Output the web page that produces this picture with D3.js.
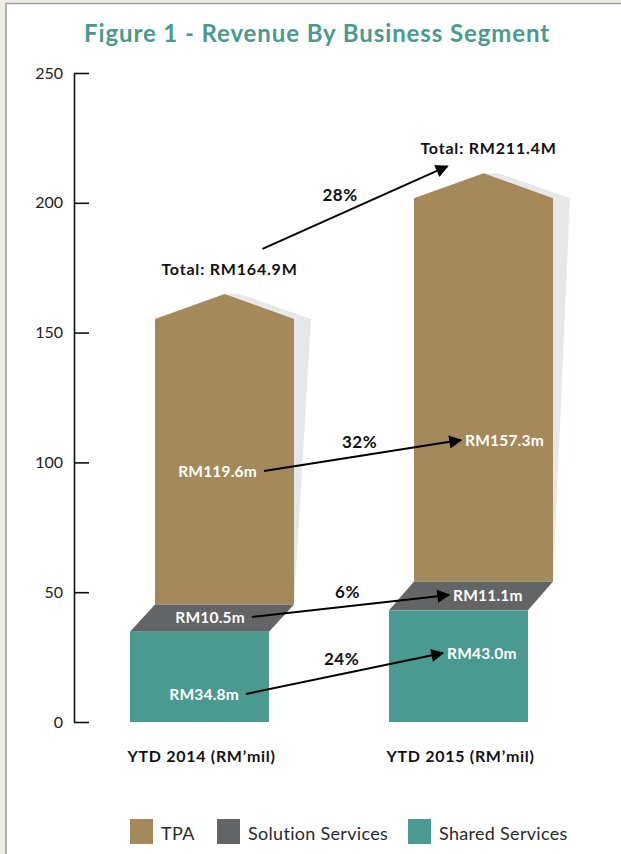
<!DOCTYPE html>
<html lang="en">
  <head>
    <meta charset="UTF-8" />
    <title>Revenue By Business Segment</title>
    <script src="https://d3js.org/d3.v7.min.js"></script>
    <style>
      html, body { margin: 0; padding: 0; background: #efebe5; }
      svg { display: block; font-family: Lato, 'Open Sans', sans-serif; }
    </style>
  </head>
  <body>
    <div id="chart"></div>
    <script>
      // data
      const years = ['YTD 2014 (RM\u2019mil)', 'YTD 2015 (RM\u2019mil)'];
      const segments = ['TPA', 'Solution Services', 'Shared Services'];
      const shared = [34.8, 43.0];
      const solution = [10.5, 11.1];
      const tpa = [119.6, 157.3];
      const totals = [164.9, 211.4];
      const growth = ['32%', '6%', '24%']; // TPA, Solution, Shared
      const totalGrowth = '28%';
      const yTicks = [0, 50, 100, 150, 200, 250];

      const colors = { TPA: '#a4895a', 'Solution Services': '#636466', 'Shared Services': '#4a9a8f' };

      const W = 621, H = 854;
      const margin = { top: 73, bottom: 132, left: 74 };
      const skew = 25;   // slant of the solution block
      const roof = 25;   // height of the pointed top

      const svg = d3.select('#chart').append('svg').attr('width', W).attr('height', H);

      // page frame
      svg.append('rect').attr('x', 6).attr('y', 3.5).attr('width', W).attr('height', H)
        .attr('fill', '#fff').attr('stroke', '#9d9d9d').attr('stroke-width', 1.5);

      svg.append('text').attr('x', 317).attr('y', 42).attr('text-anchor', 'middle')
        .attr('fill', '#4a9a8f').attr('font-weight', 700).attr('font-size', 24)
        .attr('letter-spacing', 0.9)
        .text('Figure 1 - Revenue By Business Segment');

      const y = d3.scaleLinear().domain([0, 250]).range([H - margin.bottom, margin.top]);
      const x = d3.scaleBand().domain(years).range([130, 130 + 259 + 139]).paddingInner(120 / 259).paddingOuter(0);

      const yAxis = svg.append('g').attr('transform', `translate(${margin.left},0)`)
        .call(d3.axisLeft(y).tickValues(yTicks).tickSizeInner(-15).tickSizeOuter(0).tickPadding(11));
      yAxis.select('.domain').attr('stroke', '#111').attr('stroke-width', 1.6);
      yAxis.selectAll('.tick line').attr('stroke', '#111').attr('stroke-width', 1.6);
      yAxis.selectAll('.tick text').attr('font-size', 16).attr('fill', '#222')
        .attr('font-family', 'Lato, sans-serif');

      const defs = svg.append('defs');
      defs.append('marker').attr('id', 'head').attr('viewBox', '0 0 10 10')
        .attr('refX', 9).attr('refY', 5).attr('markerWidth', 8).attr('markerHeight', 6.5)
        .attr('markerUnits', 'strokeWidth').attr('orient', 'auto')
        .append('path').attr('d', 'M0,0 L10,5 L0,10 Z').attr('fill', '#000');

      const bars = years.map((yr, i) => {
        const x0 = x(yr), bw = x.bandwidth();
        const base2 = shared[i] + solution[i];
        return {
          i, x0, bw,
          tpaLeft: x0 + skew, tpaRight: x0 + skew + bw,
          peakX: x0 + skew + bw / 2, peakY: y(totals[i]),
          shoulderY: y(totals[i]) + roof, baseY: y(base2),
          topShared: y(shared[i])
        };
      });

      const g = svg.append('g');
      bars.forEach((b) => {
        // shadow
        g.append('path').attr('fill', '#e6e7e8').attr('d', d3.line()([
          [b.peakX, b.peakY], [b.peakX + 15, b.peakY], [b.tpaRight + 17, b.shoulderY], [b.tpaRight, b.baseY]
        ]) + 'Z');
        // TPA
        g.append('path').attr('fill', colors.TPA).attr('d', d3.line()([
          [b.tpaLeft, b.baseY], [b.tpaLeft, b.shoulderY], [b.peakX, b.peakY],
          [b.tpaRight, b.shoulderY], [b.tpaRight, b.baseY]
        ]) + 'Z');
        // Solution services
        g.append('path').attr('fill', colors['Solution Services']).attr('d', d3.line()([
          [b.x0, b.topShared], [b.tpaLeft, b.baseY], [b.tpaRight, b.baseY], [b.x0 + b.bw, b.topShared]
        ]) + 'Z');
        // Shared services
        g.append('rect').attr('fill', colors['Shared Services'])
          .attr('x', b.x0).attr('y', b.topShared).attr('width', b.bw).attr('height', y(0) - b.topShared);
      });

      // category labels
      svg.selectAll('.cat').data(years).join('text').attr('class', 'cat')
        .attr('x', (d) => x(d) + x.bandwidth() / 2 + 2).attr('y', 762)
        .attr('text-anchor', 'middle').attr('font-weight', 700).attr('font-size', 16)
        .attr('letter-spacing', 0.7).attr('fill', '#111')
        .text((d) => d);

      // value labels and growth arrows
      const values = [tpa, solution, shared];
      const labelAt = [[96.3, 108.2], null, [10.4, 26.2]]; // y in data units
      const labelShift = [0, -12, -18];
      const fmt = (v) => 'RM' + v.toFixed(1) + 'm';
      segments.forEach((s, k) => {
        const ly = [0, 1].map((i) => labelAt[k] ? y(labelAt[k][i])
          : y(shared[i] + solution[i] / 2));
        const xEnd = bars[0].x0 + skew + 102 + labelShift[k];
        const xStart = bars[1].x0 + skew + 51 + labelShift[k];
        svg.append('text').attr('x', xEnd).attr('y', ly[0] + 5).attr('text-anchor', 'end')
          .attr('fill', '#fff').attr('font-weight', 700).attr('font-size', 15.5)
          .attr('letter-spacing', 0.2).text(fmt(values[k][0]));
        svg.append('text').attr('x', xStart).attr('y', ly[1] + 5).attr('text-anchor', 'start')
          .attr('fill', '#fff').attr('font-weight', 700).attr('font-size', 15.5)
          .attr('letter-spacing', 0.2).text(fmt(values[k][1]));
        const a = [xEnd + 7, ly[0] - 1], c = [xStart - 4, ly[1] - 1];
        svg.append('line').attr('x1', a[0]).attr('y1', a[1]).attr('x2', c[0]).attr('y2', c[1])
          .attr('stroke', '#000').attr('stroke-width', 2).attr('marker-end', 'url(#head)');
        svg.append('text').attr('x', (a[0] + c[0]) / 2 - 3).attr('y', (a[1] + c[1]) / 2 - 8)
          .attr('text-anchor', 'middle').attr('font-weight', 700).attr('font-size', 17)
          .attr('letter-spacing', 0.5).attr('fill', '#111')
          .text(growth[k]);
      });

      // totals
      bars.forEach((b, i) => {
        svg.append('text').attr('x', b.peakX + 5).attr('y', b.peakY - 19).attr('text-anchor', 'middle')
          .attr('font-weight', 700).attr('font-size', 16).attr('letter-spacing', 0.8).attr('fill', '#111')
          .text('Total: RM' + totals[i].toFixed(1) + 'M');
      });
      const t0 = [bars[0].peakX + 38, bars[0].peakY - 45];
      const t1 = [bars[1].peakX - 36, bars[1].peakY - 7];
      svg.append('line').attr('x1', t0[0]).attr('y1', t0[1]).attr('x2', t1[0]).attr('y2', t1[1])
        .attr('stroke', '#000').attr('stroke-width', 2).attr('marker-end', 'url(#head)');
      svg.append('text').attr('x', (t0[0] + t1[0]) / 2 - 15).attr('y', (t0[1] + t1[1]) / 2 - 7)
        .attr('text-anchor', 'middle').attr('font-weight', 700).attr('font-size', 17)
        .attr('letter-spacing', 0.5).attr('fill', '#111')
        .text(totalGrowth);

      // legend
      const legX = [130, 217, 408];
      const leg = svg.selectAll('.leg').data(segments).join('g').attr('class', 'leg')
        .attr('transform', (d, i) => `translate(${legX[i]},819)`);
      leg.append('rect').attr('width', 23).attr('height', 25).attr('fill', (d) => colors[d]);
      leg.append('text').attr('x', 31).attr('y', 21).attr('font-size', 18).attr('letter-spacing', 0.3)
        .attr('fill', '#2a2a2a')
        .text((d) => d);
    </script>
  </body>
</html>
